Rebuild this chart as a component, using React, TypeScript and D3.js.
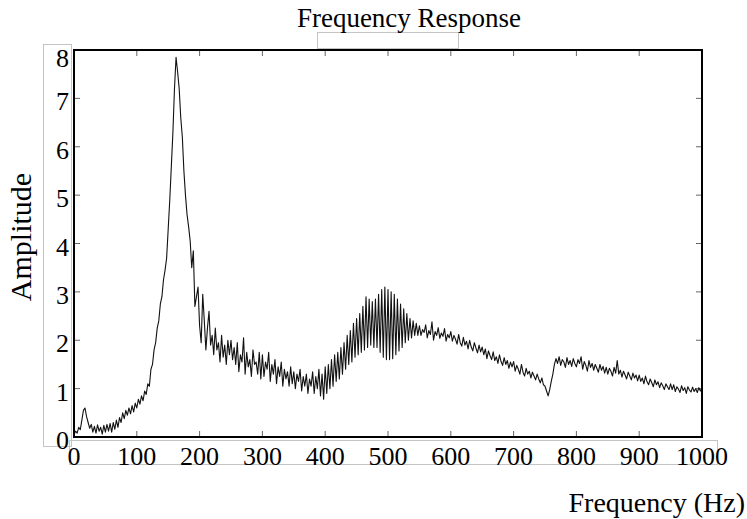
import React from "react";
import * as d3 from "d3";

const freqStep = 2.5;
const amplitude: number[] = [
  // 0 - 47.5
  0.05, 0.12, 0.08, 0.2, 0.15, 0.35, 0.55, 0.6, 0.42, 0.3, 0.18, 0.26, 0.1, 0.22, 0.08, 0.25, 0.12, 0.2, 0.06, 0.24,
  // 50 - 97.5
  0.1, 0.26, 0.12, 0.28, 0.1, 0.3, 0.16, 0.35, 0.2, 0.4, 0.3, 0.5, 0.38, 0.55, 0.45, 0.6, 0.48, 0.65, 0.52, 0.7,
  // 100 - 147.5
  0.6, 0.78, 0.68, 0.85, 0.75, 0.95, 0.88, 1.1, 1.05, 1.4, 1.5, 1.8, 1.95, 2.25, 2.4, 2.75, 2.9, 3.25, 3.45, 3.7,
  // 150 - 197.5
  4.3, 4.9, 5.6, 6.3, 7.2, 7.85, 7.55, 7.2, 6.6, 6.2, 5.5, 5.0, 4.6, 4.35, 4.05, 3.5, 3.85, 2.7, 2.9, 3.1,
  // 200 - 247.5
  2.3, 1.95, 2.95, 2.4, 1.8, 2.25, 2.6, 1.9, 2.1, 1.7, 2.25, 1.8, 1.95, 1.55, 2.1, 1.65, 1.9, 1.5, 2.0, 1.7,
  // 250 - 297.5
  2.0, 1.6, 1.85, 1.5, 1.95, 1.35, 1.7, 1.55, 2.05, 1.3, 1.75, 1.45, 1.6, 1.25, 1.8, 1.5, 1.55, 1.3, 1.75, 1.2,
  // 300 - 347.5
  1.7, 1.25, 1.55, 1.4, 1.75, 1.15, 1.5, 1.3, 1.6, 1.1, 1.45, 1.25, 1.55, 1.05, 1.4, 1.2, 1.35, 1.05, 1.45, 1.1,
  // 350 - 397.5
  1.35, 1.0, 1.3, 1.15, 1.4, 0.95, 1.25, 1.05, 1.3, 0.9, 1.2, 1.05, 1.35, 0.9, 1.25, 1.0, 1.4, 0.85, 1.3, 0.78,
  // 400 - 447.5
  1.45, 0.9, 1.5, 1.0, 1.6, 1.05, 1.7, 1.15, 1.75, 1.2, 1.85, 1.3, 1.95, 1.4, 2.1, 1.5, 2.2, 1.55, 2.35, 1.65,
  // 450 - 497.5
  2.45, 1.7, 2.55, 1.75, 2.7, 1.8, 2.9, 1.85, 2.85, 1.9, 2.8, 1.85, 2.85, 1.85, 2.95, 1.75, 3.05, 1.65, 3.1, 1.6,
  // 500 - 547.5
  3.05, 1.6, 3.0, 1.62, 2.95, 1.7, 2.85, 1.78, 2.75, 1.85, 2.65, 1.95, 2.55, 2.0, 2.45, 2.05, 2.4, 2.1, 2.35, 2.1,
  // 550 - 597.5
  2.3, 2.1, 2.22, 2.16, 2.32, 2.05, 2.2, 2.12, 2.38, 2.0, 2.18, 2.1, 2.26, 2.04, 2.15, 2.08, 2.24, 1.98, 2.12, 2.05,
  // 600 - 647.5
  2.18, 1.98, 2.1, 2.02, 1.92, 2.12, 1.95, 1.88, 2.06, 1.9, 1.98, 1.82, 2.0, 1.86, 1.78, 1.95, 1.84, 1.74, 1.9, 1.76,
  // 650 - 697.5
  1.86, 1.7, 1.82, 1.62, 1.78, 1.68, 1.6, 1.76, 1.58, 1.66, 1.52, 1.7, 1.56, 1.48, 1.64, 1.5, 1.58, 1.42, 1.55, 1.45,
  // 700 - 747.5
  1.56, 1.36, 1.48, 1.4, 1.3, 1.5, 1.34, 1.26, 1.42, 1.3, 1.36, 1.22, 1.34, 1.26, 1.18, 1.3, 1.2, 1.12, 1.22, 1.08,
  // 750 - 797.5
  1.05, 0.95, 0.85, 0.98, 1.15, 1.3, 1.5, 1.62, 1.52, 1.66, 1.48, 1.6, 1.55, 1.44, 1.64, 1.5, 1.58, 1.46, 1.62, 1.52,
  // 800 - 847.5
  1.45, 1.6, 1.52, 1.66, 1.4, 1.56, 1.48, 1.36, 1.58, 1.44, 1.52, 1.38, 1.5, 1.42, 1.34, 1.5, 1.38, 1.46, 1.32, 1.44,
  // 850 - 897.5
  1.3, 1.42, 1.36, 1.26, 1.44, 1.32, 1.58, 1.3, 1.38, 1.24, 1.36, 1.28, 1.2, 1.34, 1.26, 1.18, 1.32, 1.22, 1.28, 1.16,
  // 900 - 947.5
  1.28, 1.15, 1.22, 1.1, 1.26, 1.14, 1.08, 1.2, 1.12, 1.04, 1.18, 1.08, 1.14, 1.02, 1.12, 1.06, 0.98, 1.1, 1.04, 0.98,
  // 950 - 997.5
  1.1, 0.98, 1.08, 0.94, 1.04, 0.99, 0.92, 1.06, 0.96, 1.02, 0.9, 1.04, 0.97, 0.93, 1.03, 0.94, 1.0, 0.92, 1.02, 0.95,
  // 1000
  1.02,
];

const xTicks = [0, 100, 200, 300, 400, 500, 600, 700, 800, 900, 1000];
const yTicks = [0, 1, 2, 3, 4, 5, 6, 7, 8];

const title = "Frequency Response";
const xLabel = "Frequency (Hz)";
const yLabel = "Amplitude";

const W = 747;
const H = 519;
const L = 74, R = 702, T = 50, B = 437;
const FONT = "'Liberation Serif', 'Times New Roman', serif";

export default function App() {
  const x = d3.scaleLinear().domain([0, 1000]).range([L, R]);
  const y = d3.scaleLinear().domain([0, 8]).range([B, T]);
  const pts = amplitude.map((a, i) => [i * freqStep, a] as [number, number]);
  const line = d3
    .line<[number, number]>()
    .x((d) => x(d[0]))
    .y((d) => y(d[1]));
  const tickLen = 6;
  const gray = "#c4c4c4";
  return (
    <svg
      width={W}
      height={H}
      style={{ position: "absolute", left: 0, top: 0, background: "#fff" }}
      fontFamily={FONT}
    >
      <rect x={0} y={0} width={W} height={H} fill="#fff" />
      {/* faint label boxes */}
      <rect x={43.5} y={44.5} width={28} height={402} fill="none" stroke={gray} strokeWidth={1} />
      <rect x={69.5} y={440.5} width={648} height={24} fill="none" stroke={gray} strokeWidth={1} />
      <rect x={317.5} y={32.5} width={141} height={16} fill="none" stroke={gray} strokeWidth={1} />

      {/* ticks */}
      {xTicks.map((t) => (
        <g key={"xt" + t}>
          <line x1={x(t)} x2={x(t)} y1={B} y2={B - tickLen} stroke="#666" strokeWidth={1} />
          <line x1={x(t)} x2={x(t)} y1={T} y2={T + tickLen} stroke="#666" strokeWidth={1} />
        </g>
      ))}
      {yTicks.map((t) => (
        <g key={"yt" + t}>
          <line x1={L} x2={L + tickLen} y1={y(t)} y2={y(t)} stroke="#666" strokeWidth={1} />
          <line x1={R} x2={R - tickLen} y1={y(t)} y2={y(t)} stroke="#666" strokeWidth={1} />
        </g>
      ))}

      {/* data line */}
      <path d={line(pts) || ""} fill="none" stroke="#111" strokeWidth={1.1} strokeLinejoin="round" />

      {/* frame */}
      <rect x={L} y={T} width={R - L} height={B - T} fill="none" stroke="#000" strokeWidth={2} />

      {/* tick labels */}
      {xTicks.map((t) => (
        <text key={"xl" + t} x={x(t)} y={465} textAnchor="middle" fontSize={26} fill="#000">
          {t}
        </text>
      ))}
      {yTicks.map((t) => (
        <text
          key={"yl" + t}
          x={69}
          y={Math.max(y(t) + 3, 58) + 9}
          textAnchor="end"
          fontSize={26}
          fill="#000"
        >
          {t}
        </text>
      ))}

      {/* titles */}
      <text x={409} y={27} textAnchor="middle" fontSize={27} fill="#000">
        {title}
      </text>
      <text x={745} y={512} textAnchor="end" fontSize={28} fill="#000">
        {xLabel}
      </text>
      <text
        transform={`translate(31,237) rotate(-90)`}
        textAnchor="middle"
        fontSize={30}
        fill="#000"
      >
        {yLabel}
      </text>
    </svg>
  );
}
